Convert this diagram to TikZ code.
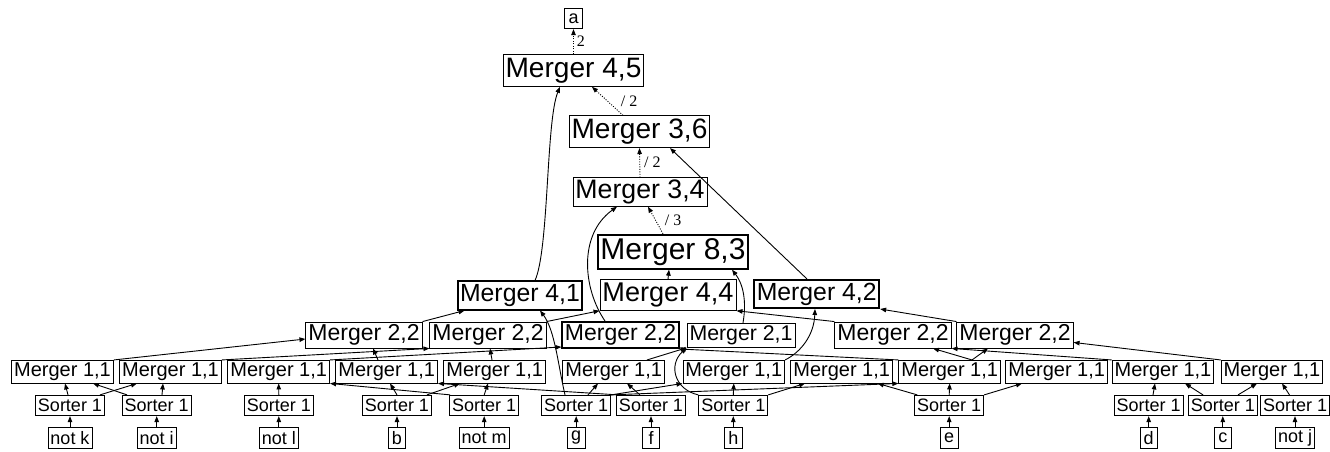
\documentclass[tikz,border=0pt]{standalone}
\usepackage{fontspec}
\setmainfont{Liberation Sans}
\newfontfamily\labelfont{Liberation Serif}
\usetikzlibrary{arrows.meta}
\begin{document}
\begin{tikzpicture}[x=1pt,y=-1pt,
  bx/.style={draw, line width=0.9pt, inner xsep=2.5pt, inner ysep=0pt,
    font=\fontsize{#1}{#1}\selectfont, minimum height={1.13pt*#1}},
  inp/.style={minimum width=17.5pt},
  thick box/.style={line width=2pt},
  ed/.style={line width=0.9pt, -{Triangle[length=6pt,width=4.5pt]}},
  dt/.style={ed, dash pattern=on 1pt off 1.5pt},
  lb/.style={font=\labelfont\fontsize{16}{16}\selectfont, inner sep=1pt}]
\useasboundingbox (0,0) rectangle (1330,452);

% inputs
\node[bx=18,inp] (i1) at (70,438) {not k};
\node[bx=18,inp] (i2) at (156.7,438) {not i};
\node[bx=18,inp] (i3) at (278.8,438) {not l};
\node[bx=18,inp] (i4) at (397,438) {b};
\node[bx=18,inp] (i5) at (484.2,438) {not m};
\node[bx=18,inp] (i6) at (576.2,438) {g};
\node[bx=18,inp] (i7) at (651,438) {f};
\node[bx=18,inp] (i8) at (733.3,438) {h};
\node[bx=18,inp] (i9) at (949.2,438) {e};
\node[bx=18,inp] (i10) at (1148.7,438) {d};
\node[bx=18,inp] (i11) at (1222.8,438) {c};
\node[bx=18,inp] (i12) at (1295,438) {not j};

% sorters
\node[bx=18] (s1) at (70,405.5) {Sorter 1};
\node[bx=18] (s2) at (156.7,405.5) {Sorter 1};
\node[bx=18] (s3) at (278.8,405.5) {Sorter 1};
\node[bx=18] (s4) at (397,405.5) {Sorter 1};
\node[bx=18] (s5) at (484.2,405.5) {Sorter 1};
\node[bx=18] (s6) at (576.2,405.5) {Sorter 1};
\node[bx=18] (s7) at (651,405.5) {Sorter 1};
\node[bx=18] (s8) at (733.3,405.5) {Sorter 1};
\node[bx=18] (s9) at (949.2,405.5) {Sorter 1};
\node[bx=18] (s10) at (1148.7,405.5) {Sorter 1};
\node[bx=18] (s11) at (1222.8,405.5) {Sorter 1};
\node[bx=18] (s12) at (1295,405.5) {Sorter 1};

% merger 1,1
\node[bx=20] (m1) at (62.5,371.7) {Merger 1,1};
\node[bx=20] (m2) at (170.5,371.7) {Merger 1,1};
\node[bx=20] (m3) at (278.7,371.7) {Merger 1,1};
\node[bx=20] (m4) at (386.7,371.7) {Merger 1,1};
\node[bx=20] (m5) at (494.7,371.7) {Merger 1,1};
\node[bx=20] (m6) at (613.7,371.7) {Merger 1,1};
\node[bx=20] (m7) at (733.8,371.7) {Merger 1,1};
\node[bx=20] (m8) at (841.7,371.7) {Merger 1,1};
\node[bx=20] (m9) at (949.7,371.7) {Merger 1,1};
\node[bx=20] (m10) at (1056.7,371.7) {Merger 1,1};
\node[bx=20] (m11) at (1163,371.7) {Merger 1,1};
\node[bx=20] (m12) at (1272,371.7) {Merger 1,1};

% merger 2,x
\node[bx=23] (a1) at (364,335) {Merger 2,2};
\node[bx=23] (a2) at (488,335) {Merger 2,2};
\node[bx=23,thick box] (a3) at (620.5,335) {Merger 2,2};
\node[bx=21.3] (a4) at (741,335.3) {Merger 2,1};
\node[bx=23] (a5) at (893,335) {Merger 2,2};
\node[bx=23] (a6) at (1015,335) {Merger 2,2};

% merger 4,x
\node[bx=24.8,thick box] (b1) at (520,295.5) {Merger 4,1};
\node[bx=27.1] (b2) at (668,295) {Merger 4,4};
\node[bx=24.8,thick box] (b3) at (816.7,294) {Merger 4,2};

% upper
\node[bx=30,thick box] (m83) at (673,251.7) {Merger 8,3};
\node[bx=26.7,minimum height=28.5pt] (m34) at (640,192) {Merger 3,4};
\node[bx=28.1] (m36) at (639.5,131.7) {Merger 3,6};
\node[bx=28.1] (m45) at (573.5,70.5) {Merger 4,5};
\node[bx=18,inp] (out) at (573.5,18.5) {a};

% inputs -> sorters
\foreach \k in {1,...,12} \draw[ed] (i\k.north) -- (s\k.south);

% sorters -> merger 1,1
\draw[ed] ([xshift=-2pt]s1.north) -- ([xshift=2.5pt]m1.south);
\draw[ed] ([xshift=30pt]s1.north) -- ([xshift=-33.5pt]m2.south);
\draw[ed] ([xshift=-29.7pt]s2.north) -- ([xshift=30.5pt]m1.south);
\draw[ed] ([xshift=5.3pt]s2.north) -- ([xshift=-7.5pt]m2.south);
\draw[ed] (s3.north) -- (m3.south);
\draw[ed] (s4.north) -- ([xshift=3.3pt]m4.south);
\draw[ed] ([xshift=30pt]s4.north) -- ([xshift=-34.7pt]m5.south);
\draw[ed] ([xshift=-34pt]s5.north) -- (m3.south east);
\draw[ed] (s5.north) -- ([xshift=-6.7pt]m5.south);
\draw[ed] ([xshift=11.8pt]s6.north) -- ([xshift=-15.7pt]m6.south);
\draw[ed] ([xshift=-11pt]s7.north) -- ([xshift=13.3pt]m6.south);
\draw[ed] ([xshift=-33pt]s7.north) -- (m4.south east);
\draw[ed] (s6.north east) -- (m7.south west);
\draw[ed] (s6.north east) -- (m9.south west);
\draw[ed] ([xshift=-11.2pt]s6.north) .. controls +(-7,-30) and +(15,20) .. ([xshift=20pt]b1.south);
\draw[ed] (s8.north) -- (m7.south);
\draw[ed] (s8.north east) -- ([xshift=-36.7pt]m8.south);
\draw[ed] (s8.north west) .. controls +(-23,-5) and +(-19,18) .. (a4.south west);
\draw[ed] ([xshift=-32pt]s9.north) -- ([xshift=36pt]m8.south);
\draw[ed] (s9.north) -- (m9.south);
\draw[ed] (s9.north east) -- ([xshift=-34.7pt]m10.south);
\draw[ed] ([xshift=4.3pt]s10.north) -- ([xshift=-8pt]m11.south);
\draw[ed] ([xshift=-19.8pt]s11.north) -- ([xshift=22pt]m11.south);
\draw[ed] ([xshift=15.2pt]s11.north) -- ([xshift=-15pt]m12.south);
\draw[ed] ([xshift=-5.5pt]s12.north) -- ([xshift=10pt]m12.south);

% merger 1,1 -> merger 2,x
\draw[ed] (m1.north east) -- ([yshift=-4pt]a1.west);
\draw[ed] (m2.north east) -- (a2.south west);
\draw[ed] ([xshift=-8.7pt]m4.north) -- ([xshift=9pt]a1.south);
\draw[ed] ([xshift=-2.7pt]m5.north) -- ([xshift=2pt]a2.south);
\draw[ed] (m3.north east) -- ([yshift=2pt]a3.south west);
\draw[ed] ([xshift=33.3pt]m6.north) -- (a4.south west);
\draw[ed] (m9.north west) -- (a3.south east);
\draw[ed] (m7.north east) .. controls +(16,-8) and +(-1,26) .. ([xshift=-1.7pt]b3.south);
\draw[ed] ([xshift=22.3pt]m9.north) -- ([xshift=40pt]a5.south);
\draw[ed] ([xshift=22.3pt]m9.north) -- ([xshift=-27pt]a6.south);
\draw[ed] (m11.north west) -- (a5.south east);
\draw[ed] (m12.north west) -- ([yshift=6pt]a6.south east);

% merger 2,x -> higher
\draw[ed] (a1.north east) -- ([xshift=8pt]b1.south west);
\draw[ed] (a2.north east) -- (b2.south west);
\draw[ed] (a5.north west) -- (b2.south east);
\draw[ed] (a6.north west) -- (b3.south east);
\draw[ed] ([xshift=2pt]a4.north) .. controls +(3,-17) and +(13,17) .. ([xshift=59pt]m83.south);
\draw[ed] ([xshift=-15.5pt]a3.north) .. controls +(-22,-32) and +(-39,28) .. ([xshift=-23pt]m34.south);

% merger 4,x -> higher
\draw[ed] ([xshift=15pt]b1.north) .. controls +(14,-31) and +(-14,34) .. ([xshift=-13.5pt]m45.south);
\draw[ed] (b2.north) -- ([xshift=-4pt]m83.south);
\draw[ed] ([xshift=-9.7pt]b3.north) -- ([xshift=30.5pt]m36.south);

% dotted chain
\draw[dt] ([xshift=-10pt]m83.north) -- node[lb, anchor=west, xshift=8pt] (l1) {/ 3} ([xshift=8pt]m34.south);
\draw[dt] (m34.north) -- node[lb, anchor=west, xshift=3pt] (l2) {/ 2} (m36.south);
\draw[dt] ([xshift=-16.5pt]m36.north) -- node[lb, anchor=west, xshift=12pt] (l3) {/ 2} ([xshift=18.5pt]m45.south);
\draw[dt] (m45.north) -- node[lb, anchor=west, xshift=2pt] (l4) {2} (out.south);
\end{tikzpicture}
\end{document}
